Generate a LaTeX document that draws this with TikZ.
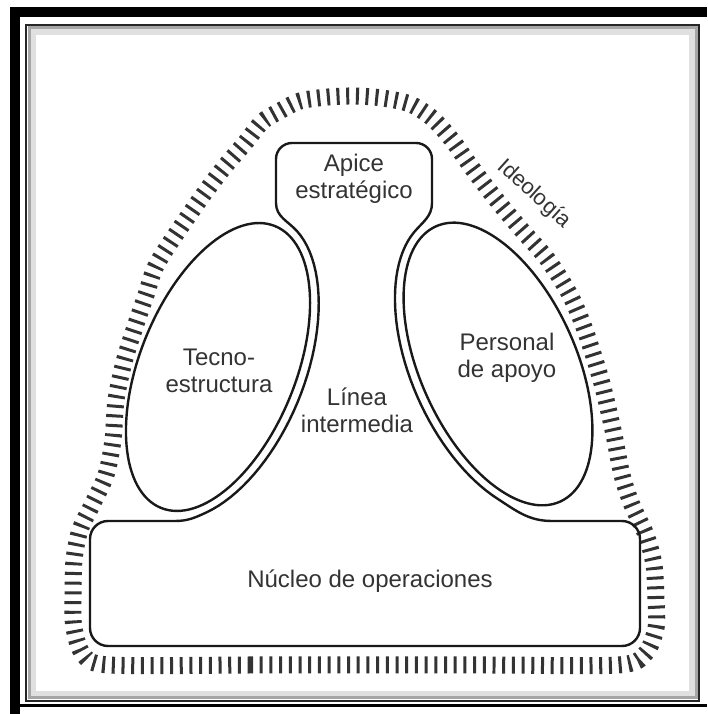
\documentclass[tikz,border=0pt]{standalone}
\usepackage{fontspec}
\setmainfont{Liberation Sans}
\begin{document}
\begin{tikzpicture}[x=1pt,y=1pt,line cap=round,line join=round,
  part/.style={draw=black!90,line width=2.4pt},
  band/.style={draw=black!80,line width=17pt,line cap=butt,dash pattern=on 3pt off 6.7pt},
  lbl/.style={align=center,text=black!80,font=\fontsize{24}{27}\selectfont}]

\useasboundingbox (0,0) rectangle (707,714);

% frame round the picture
\fill[black] (10,0) rectangle (20,707);
\fill[black] (10,697) rectangle (707,707);
\draw[line width=2.5pt,line cap=butt] (20,8.5) -- (707,8.5);
\draw[black!12,line width=6pt,line join=miter] (33,20) rectangle (692,682);
\draw[black!35,line width=3pt,line join=miter] (29,16) rectangle (696,686);
\draw[black!85,line width=2.5pt,line join=miter] (26,13) rectangle (699,689);

% ideology band
\draw[band] plot[smooth cycle] coordinates {
  (109,49) (250,49) (370,49) (490,49) (618,49) (645,60) (656,86) (656,114)
  (654,149) (646,179) (632,209) (622,239) (613,284) (601,334) (585,384)
  (570,419) (548,454) (520,486) (495,516) (472,546) (452,574) (432,596)
  (410,610) (382,616) (355,618) (328,617) (300,613) (278,602) (262,592)
  (245,571) (222,544) (196,509) (158,452) (146,419) (134,384) (124,352)
  (116,314) (113,274) (106,239) (92,209) (80,184) (74,154) (73,114)
  (74,86) (83,60)};

% ends of the middle line beside the ovals
\coordinate (LS) at ({218+161*cos(-150)*cos(68)-87*sin(-150)*sin(68)},{347+161*cos(-150)*sin(68)+87*sin(-150)*cos(68)});
\coordinate (RS) at ({498+160*cos(15)*cos(114.3)-87*sin(15)*sin(114.3)},{350+160*cos(15)*sin(114.3)+87*sin(15)*cos(114.3)});

% apex, middle line and operating core
\draw[part] (108,193) -- (175,193) to[out=0,in=205] (LS)
  -- plot[domain=-150:-15,samples=40,variable=\t]
     ({218+161*cos(\t)*cos(68)-87*sin(\t)*sin(68)},{347+161*cos(\t)*sin(68)+87*sin(\t)*cos(68)})
  to[out=132,in=-90] (276,511) -- (276,555) arc[start angle=180,end angle=90,radius=16]
  -- (416,571) arc[start angle=90,end angle=0,radius=16] -- (432,511)
  to[out=-90,in=50] (RS)
  -- plot[domain=15:140,samples=40,variable=\t]
     ({498+160*cos(\t)*cos(114.3)-87*sin(\t)*sin(114.3)},{350+160*cos(\t)*sin(114.3)+87*sin(\t)*cos(114.3)})
  to[out=-33,in=180] (552,193) -- (622,193) arc[start angle=90,end angle=0,radius=18]
  -- (640,86) arc[start angle=0,end angle=-90,radius=18]
  -- (108,68) arc[start angle=270,end angle=180,radius=18]
  -- (90,175) arc[start angle=180,end angle=90,radius=18] -- cycle;

% the two ovals
\draw[part,rotate around={68:(218,347)}] (218,347) ellipse[x radius=152,y radius=78];
\draw[part,rotate around={114.3:(498,350)}] (498,350) ellipse[x radius=151,y radius=78];

% labels
\node[lbl] (apex) at (354,535) {Apice\\estratégico};
\node[lbl] (techno) at (219,343) {Tecno-\\estructura};
\node[lbl] (middle) at (357,304) {Línea\\intermedia};
\node[lbl] (staff) at (507,356) {Personal\\de apoyo};
\node[lbl] (core) at (370,133) {Núcleo de operaciones};
\node[lbl,font=\fontsize{22}{25}\selectfont,rotate=-42,inner sep=0pt] (ideology) at (534,520) {Ideología};

\end{tikzpicture}
\end{document}
